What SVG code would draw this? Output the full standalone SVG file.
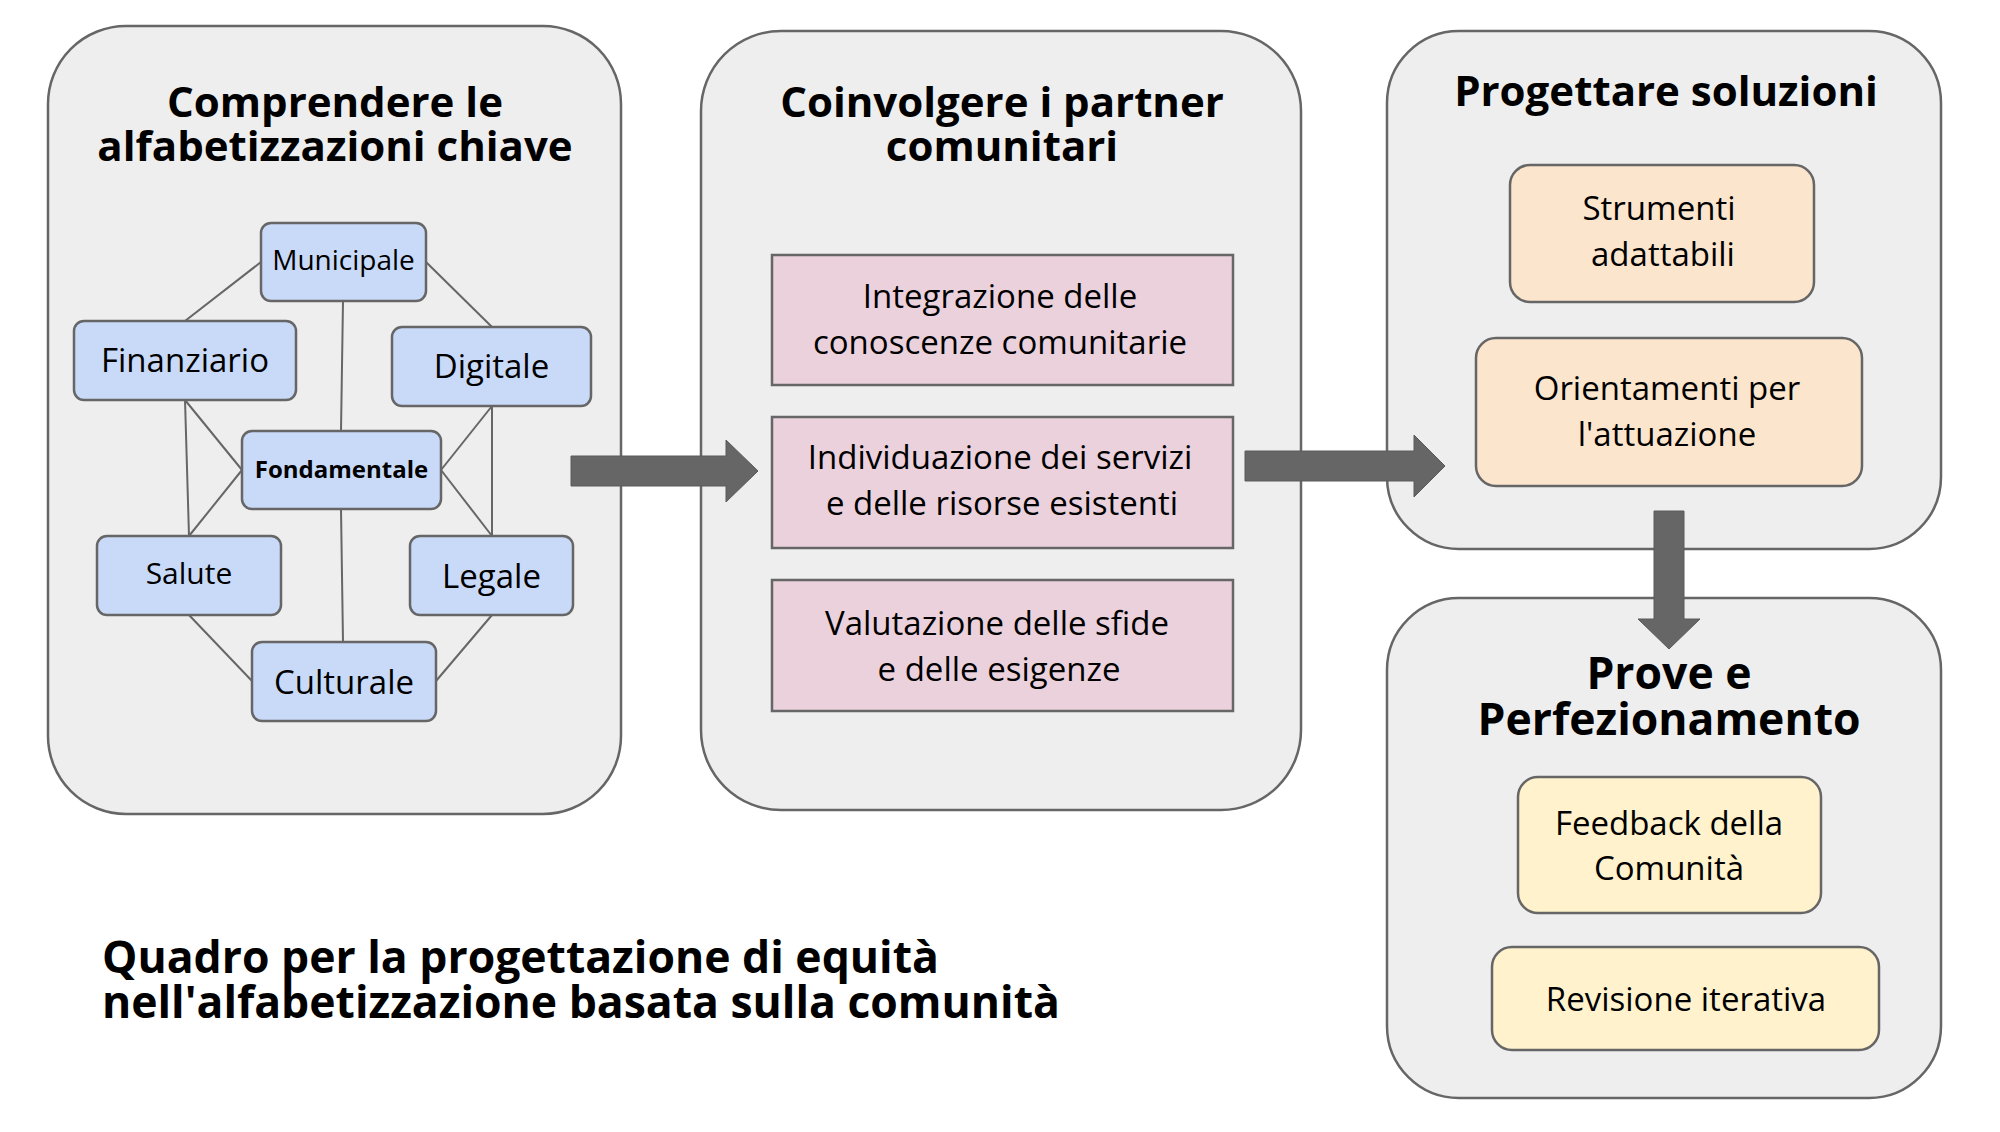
<svg xmlns="http://www.w3.org/2000/svg" width="2000" height="1132" viewBox="0 0 2000 1132">
<style>
.panel{fill:#eeeeee;stroke:#666666;stroke-width:2.5}
.title{font-family:"Open Sans","Liberation Sans",sans-serif;font-weight:700;font-size:42px;fill:#000;text-anchor:middle}
.lit{fill:#c9daf8;stroke:#666666;stroke-width:2.5}
.pink{fill:#ead1dc;stroke:#666666;stroke-width:2.5}
.orange{fill:#fce5cd;stroke:#666666;stroke-width:2.5}
.yellow{fill:#fff2cc;stroke:#666666;stroke-width:2.5}
.t{font-family:"Open Sans","Liberation Sans",sans-serif;font-size:33px;fill:#000;text-anchor:middle}
.link{stroke:#666666;stroke-width:2;fill:none}
.arrow{fill:#666666;stroke:#5a5a5a;stroke-width:1}
.caption{font-family:"Open Sans","Liberation Sans",sans-serif;font-weight:700;font-size:44.5px;fill:#000}
</style>
<rect width="2000" height="1132" fill="#ffffff"/>

<g id="panel-comprendere">
<rect class="panel" x="48" y="26" width="573" height="788" rx="78" ry="78"/>
<text class="title" x="335" y="117">Comprendere le</text>
<text class="title" x="335" y="161">alfabetizzazioni chiave</text>
</g>

<g id="panel-coinvolgere">
<rect class="panel" x="701" y="31" width="600" height="779" rx="80" ry="80"/>
<text class="title" x="1002" y="117">Coinvolgere i partner</text>
<text class="title" x="1002" y="161">comunitari</text>
</g>

<g id="panel-progettare">
<rect class="panel" x="1387" y="31" width="554" height="518" rx="72" ry="72"/>
<text class="title" x="1666" y="106">Progettare soluzioni</text>
</g>

<g id="panel-prove">
<rect class="panel" x="1387" y="598" width="554" height="500" rx="72" ry="72"/>
<text class="title" x="1669" y="689" style="font-size:44.5px">Prove e</text>
<text class="title" x="1669" y="735" style="font-size:44.5px">Perfezionamento</text>
</g>

<g id="connectors">
<line class="link" x1="261" y1="262" x2="185" y2="321"/>
<line class="link" x1="426" y1="262" x2="492" y2="327"/>
<line class="link" x1="343" y1="301" x2="341" y2="431"/>
<line class="link" x1="185" y1="400" x2="242" y2="470"/>
<line class="link" x1="185" y1="400" x2="189" y2="536"/>
<line class="link" x1="242" y1="470" x2="189" y2="536"/>
<line class="link" x1="492" y1="406" x2="441" y2="470"/>
<line class="link" x1="492" y1="406" x2="492" y2="536"/>
<line class="link" x1="441" y1="470" x2="492" y2="536"/>
<line class="link" x1="341" y1="509" x2="343" y2="642"/>
<line class="link" x1="189" y1="615" x2="252" y2="681"/>
<line class="link" x1="492" y1="615" x2="436" y2="681"/>
<polygon class="arrow" points="571,456 726,456 726,440 758,471 726,502 726,486 571,486"/>
<polygon class="arrow" points="1245,451 1414,451 1414,435 1445,466 1414,497 1414,481 1245,481"/>
<polygon class="arrow" points="1654,511 1684,511 1684,619 1700,619 1669,649 1638,619 1654,619"/>
</g>

<g id="node-municipale">
<rect class="lit" x="261" y="223" width="165" height="78" rx="10" ry="10"/>
<text class="t" x="343.5" y="269.5" style="font-size:28px">Municipale</text>
</g>
<g id="node-finanziario">
<rect class="lit" x="74" y="321" width="222" height="79" rx="10" ry="10"/>
<text class="t" x="185" y="372">Finanziario</text>
</g>
<g id="node-digitale">
<rect class="lit" x="392" y="327" width="199" height="79" rx="10" ry="10"/>
<text class="t" x="491.5" y="378">Digitale</text>
</g>
<g id="node-fondamentale">
<rect class="lit" x="242" y="431" width="199" height="78" rx="10" ry="10"/>
<text class="t" x="341.5" y="478" style="font-size:24px;font-weight:700">Fondamentale</text>
</g>
<g id="node-salute">
<rect class="lit" x="97" y="536" width="184" height="79" rx="10" ry="10"/>
<text class="t" x="189" y="583.5" style="font-size:30px">Salute</text>
</g>
<g id="node-legale">
<rect class="lit" x="410" y="536" width="163" height="79" rx="10" ry="10"/>
<text class="t" x="491.5" y="588">Legale</text>
</g>
<g id="node-culturale">
<rect class="lit" x="252" y="642" width="184" height="79" rx="10" ry="10"/>
<text class="t" x="344" y="694">Culturale</text>
</g>

<g id="node-integrazione">
<rect class="pink" x="772" y="255" width="461" height="130"/>
<text class="t" x="1000" y="308">Integrazione delle</text>
<text class="t" x="1000" y="354">conoscenze comunitarie</text>
</g>
<g id="node-individuazione">
<rect class="pink" x="772" y="417" width="461" height="131"/>
<text class="t" x="1000" y="469">Individuazione dei servizi</text>
<text class="t" x="1002" y="515">e delle risorse esistenti</text>
</g>
<g id="node-valutazione">
<rect class="pink" x="772" y="580" width="461" height="131"/>
<text class="t" x="997" y="635">Valutazione delle sfide</text>
<text class="t" x="999" y="681">e delle esigenze</text>
</g>

<g id="node-strumenti">
<rect class="orange" x="1510" y="165" width="304" height="137" rx="20" ry="20"/>
<text class="t" x="1659" y="220">Strumenti</text>
<text class="t" x="1663" y="266">adattabili</text>
</g>
<g id="node-orientamenti">
<rect class="orange" x="1476" y="338" width="386" height="148" rx="20" ry="20"/>
<text class="t" x="1667" y="400">Orientamenti per</text>
<text class="t" x="1667" y="446">l'attuazione</text>
</g>

<g id="node-feedback">
<rect class="yellow" x="1518" y="777" width="303" height="136" rx="20" ry="20"/>
<text class="t" x="1669" y="835">Feedback della</text>
<text class="t" x="1669" y="880">Comunità</text>
</g>
<g id="node-revisione">
<rect class="yellow" x="1492" y="947" width="387" height="103" rx="20" ry="20"/>
<text class="t" x="1686" y="1011">Revisione iterativa</text>
</g>

<g id="caption">
<text class="caption" x="102" y="973">Quadro per la progettazione di equità</text>
<text class="caption" x="102" y="1018">nell'alfabetizzazione basata sulla comunità</text>
</g>
</svg>
